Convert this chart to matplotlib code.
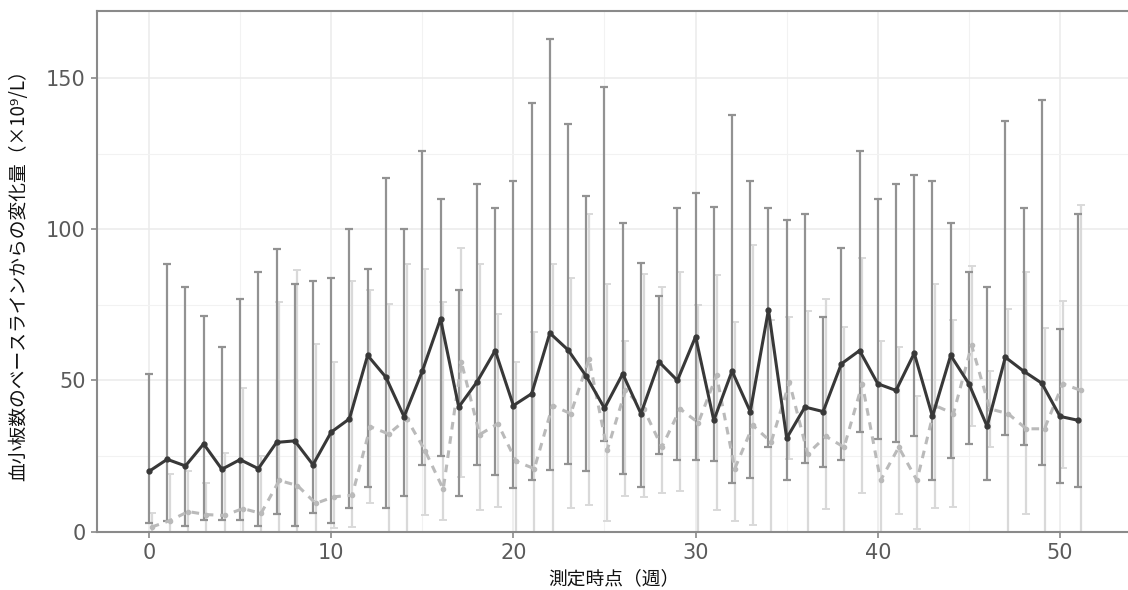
import numpy as np
import matplotlib
matplotlib.use("Agg")
import matplotlib.pyplot as plt
from matplotlib.ticker import MultipleLocator

plt.rcParams['font.family'] = ['Noto Sans CJK JP', 'DejaVu Sans']

# weeks 0..51
weeks = np.arange(52)

# solid series: mean with lower / upper error bar ends
dark_mean = [19.9, 23.9, 21.7, 29.0, 20.6, 23.8, 20.8, 29.5, 30.0, 22.1,
             32.9, 37.3, 58.3, 51.1, 38.0, 53.1, 70.4, 41.2, 49.5, 59.9,
             41.7, 45.6, 65.7, 60.1, 51.4, 40.8, 52.2, 39.0, 56.1, 50.0,
             64.5, 36.8, 53.1, 39.7, 73.4, 30.9, 41.2, 39.7, 55.5, 59.9,
             48.9, 46.7, 59.0, 38.1, 58.3, 48.9, 34.8, 57.7, 53.1, 49.1,
             38.1, 36.8]
dark_low = [2.8, 3.6, 1.8, 3.9, 3.9, 3.9, 1.8, 5.8, 1.7, 6.0,
            2.8, 7.7, 14.7, 7.7, 11.7, 21.9, 24.9, 11.7, 21.9, 18.8,
            14.3, 16.9, 20.2, 22.4, 20.0, 29.9, 18.9, 14.7, 25.5, 23.8,
            23.8, 23.3, 16.0, 17.8, 27.9, 16.9, 22.7, 21.5, 23.8, 32.8,
            30.7, 29.6, 31.6, 16.9, 24.3, 28.8, 16.9, 32.1, 28.5, 21.9,
            16.0, 14.7]
dark_high = [52, 88.4, 81, 71.5, 61, 77, 86, 93.5, 82, 83,
             84, 100, 87, 117, 100, 126, 110, 80, 115, 107,
             116, 142, 163, 135, 111, 147, 102, 89, 78, 107,
             112, 107.5, 138, 116, 107, 103, 105, 71, 94, 126,
             110, 115, 118, 116, 102, 86, 81, 136, 107, 143,
             67, 105]

# dashed series: mean with lower / upper error bar ends
light_mean = [1.5, 3.6, 6.6, 5.6, 5.3, 7.6, 6.0, 16.9, 15.2, 9.3,
              11.5, 12.0, 34.7, 32.3, 37.3, 26.8, 14.0, 56.0, 32.1, 35.7,
              23.2, 20.8, 41.7, 39.0, 57.2, 27.0, 46.7, 40.6, 27.9, 40.6,
              36.0, 51.7, 20.8, 35.1, 29.6, 49.4, 25.7, 31.5, 27.9, 48.9,
              16.9, 27.9, 16.9, 41.7, 39.0, 61.6, 40.6, 39.0, 34.0, 34.0,
              48.9, 46.7]
light_low = [0, 0, 0, 0, 0, 0, 0, 0, 0, 0,
             1.0, 1.4, 9.4, 0, 0, 5.3, 3.9, 18.0, 7.0, 8.0,
             0, 0, 0, 7.7, 8.8, 3.6, 11.9, 11.4, 12.8, 13.4,
             0, 7.0, 3.4, 2.0, 0, 24.0, 0, 7.5, 0, 12.8,
             0, 5.8, 0.9, 7.7, 8.0, 35.0, 28.0, 0, 5.8, 0,
             21.0, 0]
light_high = [6, 19, 20, 16, 26, 47.5, 25, 76, 86.7, 62,
              56, 83, 80, 75.4, 88.6, 87, 76, 93.8, 88.6, 72,
              56, 66, 88.6, 84, 105, 82, 63, 85.4, 80.9, 85.9,
              75, 85, 69.3, 95, 70, 71, 73, 77, 67.7, 90.5,
              63, 61, 45, 82, 70, 87.9, 53, 73.7, 86, 67.4,
              76.3, 108]

xticks = [0, 10, 20, 30, 40, 50]
yticks = [0, 50, 100, 150]

dark_mean = np.array(dark_mean)
light_mean = np.array(light_mean)
dodge = 0.15  # light series sits slightly right of the dark one

fig = plt.figure(figsize=(11.28, 5.9), dpi=100)
ax = fig.add_axes([96.7 / 1128, 1 - 531.5 / 590, (1130.5 - 96.7) / 1128, (531.5 - 10.7) / 590])

# light error bars first (behind)
ax.errorbar(weeks + dodge, light_mean,
            yerr=[light_mean - np.array(light_low), np.array(light_high) - light_mean],
            fmt='none', ecolor='#d9d9d9', elinewidth=1.6, capsize=3, capthick=1.4, zorder=2)
ax.errorbar(weeks, dark_mean,
            yerr=[dark_mean - np.array(dark_low), np.array(dark_high) - dark_mean],
            fmt='none', ecolor='#929292', elinewidth=1.6, capsize=3, capthick=1.6, zorder=3)

ax.plot(weeks + dodge, light_mean, color='#bababa', lw=2.2, linestyle=(0, (2.5, 2.2)),
        marker='o', markersize=3, zorder=4)
ax.plot(weeks, dark_mean, color='#383838', lw=2.2, marker='o', markersize=3.5, zorder=5)

ax.set_xlim(-2.87, 53.87)
ax.set_ylim(0, 172.4)
ax.set_xticks(xticks)
ax.set_yticks(yticks)
ax.xaxis.set_minor_locator(MultipleLocator(5))
ax.yaxis.set_minor_locator(MultipleLocator(25))
ax.grid(True, which='major', color='#ebebeb', lw=1.1, zorder=0)
ax.grid(True, which='minor', color='#f2f2f2', lw=0.8, zorder=0)
ax.set_axisbelow(True)

for sp in ax.spines.values():
    sp.set_color('#8a8a8a')
    sp.set_linewidth(1.5)

ax.tick_params(which='major', length=4, width=1.2, color='#8a8a8a', labelcolor='#5a5a5a',
               labelsize=15, pad=4)
ax.tick_params(which='minor', length=0)
for lab in ax.get_xticklabels() + ax.get_yticklabels():
    lab.set_fontfamily('DejaVu Sans')

ax.set_xlabel('測定時点（週）', fontsize=13.5, color='#111111', labelpad=4)
ax.set_ylabel('血小板数のベースラインからの変化量（×10⁹/L）', fontsize=13.5, color='#111111', labelpad=12)

fig.savefig('out.png', dpi=100)
